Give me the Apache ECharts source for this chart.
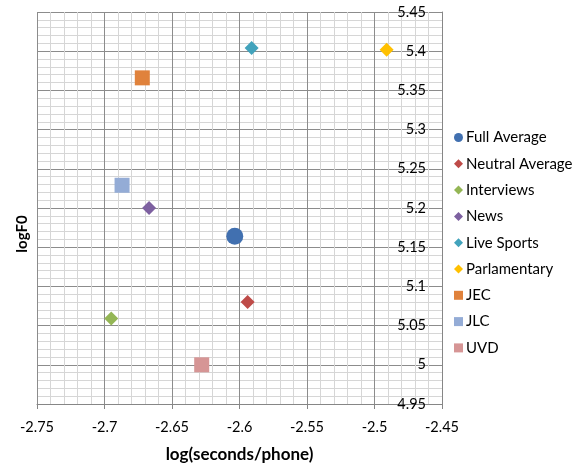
<!DOCTYPE html>
<html>
<head>
<meta charset="utf-8">
<script src="https://cdn.jsdelivr.net/npm/echarts@6/dist/echarts.min.js"></script>
<style>
html,body{margin:0;padding:0;background:#fff;}
#c{width:584px;height:468px;}
</style>
</head>
<body>
<div id="c"></div>
<script>
// ---- data ----
var seriesNames = ['Full Average','Neutral Average','Interviews','News','Live Sports','Parlamentary','JEC','JLC','UVD'];
var xValues = [-2.6035, -2.594, -2.695, -2.667, -2.591, -2.491, -2.672, -2.687, -2.628];
var yValues = [5.164, 5.080, 5.059, 5.200, 5.404, 5.402, 5.366, 5.229, 5.000];
var xTicks = { min: -2.75, max: -2.45, interval: 0.05 };
var yTicks = { min: 4.95, max: 5.45, interval: 0.05 };
var xTitle = 'log(seconds/phone)';
var yTitle = 'logF0';

// ---- styles ----
var colors = ['#4170B0','#BE4B48','#94B655','#7D60A0','#42A3BC','#FFC000','#E0823C','#94ACD6','#D69595'];
var symbols = ['circle','diamond','diamond','diamond','diamond','diamond','rect','rect','rect'];
var symbolSizes = [17,14,14,14,14,14,15,15,15];
var legendIcons = ['circle','diamond','diamond','diamond','diamond','diamond','rect','rect','rect'];
var FONT = 'Lato';

var series = seriesNames.map(function(n,i){
  return {
    name: n,
    type: 'scatter',
    data: [[xValues[i], yValues[i]]],
    symbol: symbols[i],
    symbolSize: symbolSizes[i],
    itemStyle: { color: colors[i], opacity: 1 },
    emphasis: { disabled: true },
    z: 3
  };
});

var chart = echarts.init(document.getElementById('c'), null, {renderer:'canvas'});
chart.setOption({
  animation: false,
  backgroundColor: '#fff',
  grid: { left: 37, top: 12, right: 142, bottom: 62, containLabel: false },
  xAxis: {
    type: 'value',
    min: xTicks.min, max: xTicks.max, interval: xTicks.interval,
    name: xTitle, nameLocation: 'middle', nameGap: 42,
    nameTextStyle: { fontFamily: FONT, fontWeight: 'bold', fontSize: 17, color: '#000' },
    axisLine: { show: true, onZero: false, lineStyle: { color: '#868686', width: 1 } },
    axisTick: { show: true, length: 5, lineStyle: { color: '#868686' } },
    axisLabel: { fontFamily: FONT, fontSize: 14.5, color: '#000', margin: 16 },
    splitLine: { show: true, lineStyle: { color: '#8c8c8c', width: 1 } },
    minorTick: { show: false, splitNumber: 5 },
    minorSplitLine: { show: true, lineStyle: { color: '#d6d6d6', width: 1 } }
  },
  yAxis: {
    type: 'value',
    position: 'right',
    min: yTicks.min, max: yTicks.max, interval: yTicks.interval,
    axisLine: { show: true, onZero: false, lineStyle: { color: '#868686', width: 1 } },
    axisTick: { show: false },
    axisLabel: { inside: true, fontFamily: FONT, fontSize: 14.5, color: '#000', margin: 16 },
    splitLine: { show: true, lineStyle: { color: '#8c8c8c', width: 1 } },
    minorTick: { show: false, splitNumber: 5 },
    minorSplitLine: { show: true, lineStyle: { color: '#d6d6d6', width: 1 } }
  },
  legend: {
    orient: 'vertical',
    left: 449, top: 125,
    itemWidth: 9, itemHeight: 9, itemGap: 11.3,
    selectedMode: false,
    textStyle: { fontFamily: FONT, fontSize: 15, color: '#000', padding: [0,0,0,-2] },
    data: seriesNames.map(function(n,i){ return { name: n, icon: legendIcons[i] }; })
  },
  graphic: [{
    type: 'text',
    left: 15, top: 'middle',
    rotation: Math.PI/2,
    style: { text: yTitle, fontFamily: FONT, fontWeight: 'bold', fontSize: 15, fill: '#000' }
  }],
  series: series
});
</script>
</body>
</html>
